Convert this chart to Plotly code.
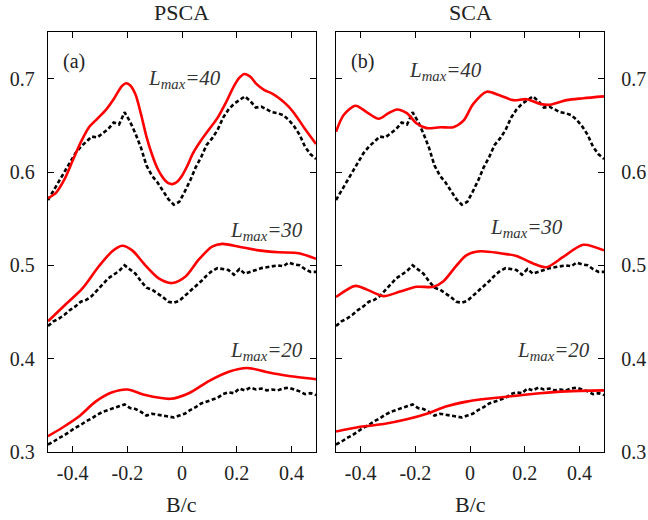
import plotly.graph_objects as go

# ---- black dotted reference curves (same in both panels) ----
x_ref = [-0.49, -0.47, -0.45, -0.43, -0.41, -0.39, -0.37, -0.35, -0.33, -0.31,
         -0.29, -0.27, -0.25, -0.23, -0.21, -0.19, -0.17, -0.15, -0.13, -0.11,
         -0.09, -0.07, -0.05, -0.03, -0.01, 0.01, 0.03, 0.05, 0.07, 0.09,
         0.11, 0.13, 0.15, 0.17, 0.19, 0.21, 0.23, 0.25, 0.27, 0.29,
         0.31, 0.33, 0.35, 0.37, 0.39, 0.41, 0.43, 0.45, 0.47, 0.49]

ref_40 = [0.570, 0.580, 0.590, 0.600, 0.609, 0.620, 0.627, 0.633, 0.638, 0.637,
          0.642, 0.646, 0.653, 0.651, 0.664, 0.654, 0.641, 0.626, 0.607, 0.596,
          0.589, 0.580, 0.571, 0.565, 0.568, 0.579, 0.591, 0.605, 0.616, 0.629,
          0.636, 0.645, 0.658, 0.667, 0.673, 0.677, 0.681, 0.676, 0.669, 0.670,
          0.667, 0.664, 0.663, 0.661, 0.656, 0.649, 0.640, 0.627, 0.619, 0.614]

ref_30 = [0.435, 0.440, 0.443, 0.447, 0.452, 0.456, 0.461, 0.463, 0.467, 0.473,
          0.479, 0.486, 0.490, 0.494, 0.500, 0.495, 0.491, 0.483, 0.476, 0.474,
          0.470, 0.466, 0.461, 0.460, 0.462, 0.467, 0.472, 0.478, 0.483, 0.489,
          0.494, 0.497, 0.496, 0.495, 0.490, 0.496, 0.491, 0.493, 0.495, 0.497,
          0.498, 0.499, 0.500, 0.499, 0.503, 0.501, 0.500, 0.496, 0.493, 0.493]

ref_20 = [0.308, 0.311, 0.315, 0.318, 0.322, 0.326, 0.329, 0.333, 0.336, 0.340,
          0.343, 0.345, 0.347, 0.349, 0.351, 0.347, 0.346, 0.343, 0.339, 0.341,
          0.340, 0.339, 0.338, 0.337, 0.339, 0.341, 0.345, 0.348, 0.352, 0.354,
          0.356, 0.358, 0.362, 0.364, 0.363, 0.368, 0.366, 0.369, 0.367, 0.368,
          0.366, 0.367, 0.366, 0.368, 0.369, 0.367, 0.365, 0.362, 0.363, 0.361]

# ---- PSCA (panel a) red curves ----
psca40_x = [-0.49, -0.46, -0.43, -0.40, -0.37, -0.34, -0.31, -0.28, -0.25, -0.22,
            -0.205, -0.19, -0.17, -0.15, -0.13, -0.11, -0.09, -0.07, -0.05, -0.035,
            -0.02, 0.0, 0.02, 0.04, 0.07, 0.10, 0.13, 0.16, 0.19, 0.21,
            0.228, 0.25, 0.27, 0.30, 0.33, 0.36, 0.39, 0.42, 0.45, 0.49]
psca40_y = [0.572, 0.578, 0.592, 0.612, 0.632, 0.648, 0.657, 0.666, 0.678, 0.692,
            0.695, 0.693, 0.683, 0.662, 0.638, 0.619, 0.604, 0.594, 0.588, 0.587,
            0.589, 0.596, 0.607, 0.620, 0.634, 0.646, 0.658, 0.674, 0.692, 0.701,
            0.705, 0.702, 0.695, 0.688, 0.684, 0.678, 0.670, 0.659, 0.646, 0.630]

psca30_x = [-0.49, -0.426, -0.365, -0.304, -0.255, -0.219, -0.182, -0.134, -0.085, -0.036,
            0.013, 0.061, 0.11, 0.147, 0.208, 0.281, 0.354, 0.427, 0.49]
psca30_y = [0.440, 0.458, 0.475, 0.499, 0.515, 0.521, 0.516, 0.500, 0.486, 0.481,
            0.488, 0.506, 0.520, 0.523, 0.520, 0.516, 0.514, 0.513, 0.507]

psca20_x = [-0.49, -0.438, -0.377, -0.316, -0.255, -0.2, -0.134, -0.042, 0.025, 0.098,
            0.171, 0.238, 0.305, 0.379, 0.49]
psca20_y = [0.317, 0.326, 0.338, 0.354, 0.364, 0.367, 0.361, 0.357, 0.363, 0.376,
            0.386, 0.390, 0.386, 0.382, 0.378]

# ---- SCA (panel b) red curves ----
sca40_x = [-0.49, -0.462, -0.419, -0.377, -0.334, -0.298, -0.267, -0.231, -0.195, -0.158,
           -0.109, -0.061, -0.024, 0.012, 0.061, 0.11, 0.158, 0.207, 0.256, 0.292,
           0.353, 0.414, 0.49]
sca40_y = [0.643, 0.661, 0.671, 0.664, 0.657, 0.663, 0.667, 0.663, 0.652, 0.647,
           0.648, 0.648, 0.655, 0.673, 0.686, 0.682, 0.677, 0.678, 0.673, 0.672,
           0.677, 0.679, 0.681]

sca30_x = [-0.49, -0.419, -0.377, -0.316, -0.255, -0.195, -0.134, -0.097, -0.049, -0.012,
           0.037, 0.11, 0.17, 0.231, 0.28, 0.341, 0.414, 0.49]
sca30_y = [0.466, 0.478, 0.474, 0.467, 0.472, 0.477, 0.477, 0.483, 0.500, 0.511,
           0.515, 0.513, 0.510, 0.502, 0.498, 0.509, 0.522, 0.516]

sca20_x = [-0.49, -0.401, -0.316, -0.231, -0.158, -0.085, -0.012, 0.061, 0.158, 0.256,
           0.353, 0.49]
sca20_y = [0.322, 0.327, 0.330, 0.335, 0.341, 0.349, 0.354, 0.357, 0.360, 0.363,
           0.365, 0.366]

x_tickvals = [-0.4, -0.2, 0, 0.2, 0.4]
x_ticktext = ["-0.4", "-0.2", "0", "0.2", "0.4"]
y_tickvals = [0.3, 0.4, 0.5, 0.6, 0.7]
y_ticktext = ["0.3", "0.4", "0.5", "0.6", "0.7"]

panel_titles = ["PSCA", "SCA"]
panel_tags = ["(a)", "(b)"]
lmax_labels = ["40", "30", "20"]

RED = "#ff0000"
FONT = "Liberation Serif"
TXT = "#222222"

fig = go.Figure()

red_sets = [
    [(psca40_x, psca40_y), (psca30_x, psca30_y), (psca20_x, psca20_y)],
    [(sca40_x, sca40_y), (sca30_x, sca30_y), (sca20_x, sca20_y)],
]
refs = [ref_40, ref_30, ref_20]

for p, (xa, ya) in enumerate([("x", "y"), ("x2", "y2")]):
    for r in refs:
        fig.add_trace(go.Scatter(
            x=x_ref, y=r, xaxis=xa, yaxis=ya, mode="lines",
            line=dict(color="black", width=2.6, dash="4px,2.5px"),
            showlegend=False, hoverinfo="skip"))
    for cx, cy in red_sets[p]:
        fig.add_trace(go.Scatter(
            x=cx, y=cy, xaxis=xa, yaxis=ya, mode="lines",
            line=dict(color=RED, width=2.6, shape="spline", smoothing=0.8),
            showlegend=False, hoverinfo="skip"))

axis_common = dict(
    showline=True, linecolor="black", linewidth=1.3, mirror="ticks",
    ticks="inside", ticklen=6, tickwidth=1.2, tickcolor="black",
    showgrid=False, zeroline=False, automargin=False,
    tickfont=dict(family=FONT, size=20, color=TXT),
)

fig.update_layout(
    width=648, height=520,
    margin=dict(l=48, r=44, t=32, b=68),
    font=dict(family=FONT, color=TXT),
    plot_bgcolor="white", paper_bgcolor="white",
    xaxis=dict(domain=[0, 0.482], range=[-0.49, 0.49], tickvals=x_tickvals,
               ticktext=x_ticktext, ticklabelstandoff=3, **axis_common),
    xaxis2=dict(domain=[0.518, 1], range=[-0.49, 0.49], tickvals=x_tickvals,
                ticktext=x_ticktext, anchor="y2", ticklabelstandoff=3, **axis_common),
    yaxis=dict(range=[0.3, 0.75], tickvals=y_tickvals, ticktext=y_ticktext,
               ticklabelstandoff=8, **axis_common),
    yaxis2=dict(range=[0.3, 0.75], tickvals=y_tickvals, ticktext=y_ticktext,
                anchor="x2", side="right", ticklabelstandoff=12, **axis_common),
)

annotations = []
# panel titles, axis titles and panel tags
for i, (xref, yref) in enumerate([("x domain", "y domain"), ("x2 domain", "y2 domain")]):
    annotations.append(dict(text=panel_titles[i], x=0.5, y=1.0, xref=xref, yref="paper",
                            yanchor="bottom", yshift=5, showarrow=False,
                            font=dict(family=FONT, size=22, color=TXT)))
    annotations.append(dict(text="B/c", x=0.5, y=0, xref=xref, yref="paper",
                            yanchor="top", yshift=-38, showarrow=False,
                            font=dict(family=FONT, size=22, color=TXT)))
    annotations.append(dict(text=panel_tags[i], x=0.05, y=0.93, xref=xref, yref=yref,
                            xanchor="left", yanchor="middle", showarrow=False,
                            font=dict(family=FONT, size=20, color=TXT)))

# L_max labels: (x, y) in data units of each panel
lmax_pos = [
    [(-0.13, 0.70), (0.17, 0.537), (0.17, 0.408)],
    [(-0.23, 0.708), (0.065, 0.54), (0.165, 0.408)],
]
for p, (xa, ya) in enumerate([("x", "y"), ("x2", "y2")]):
    for k, lab in enumerate(lmax_labels):
        lx, ly = lmax_pos[p][k]
        annotations.append(dict(
            text="<i>L</i><sub><i>max</i></sub><i>=" + lab + "</i>",
            x=lx, y=ly, xref=xa, yref=ya, xanchor="left", yanchor="middle",
            showarrow=False, font=dict(family=FONT, size=21, color="#333333")))

fig.update_layout(annotations=annotations)

fig.write_html("out.html")
